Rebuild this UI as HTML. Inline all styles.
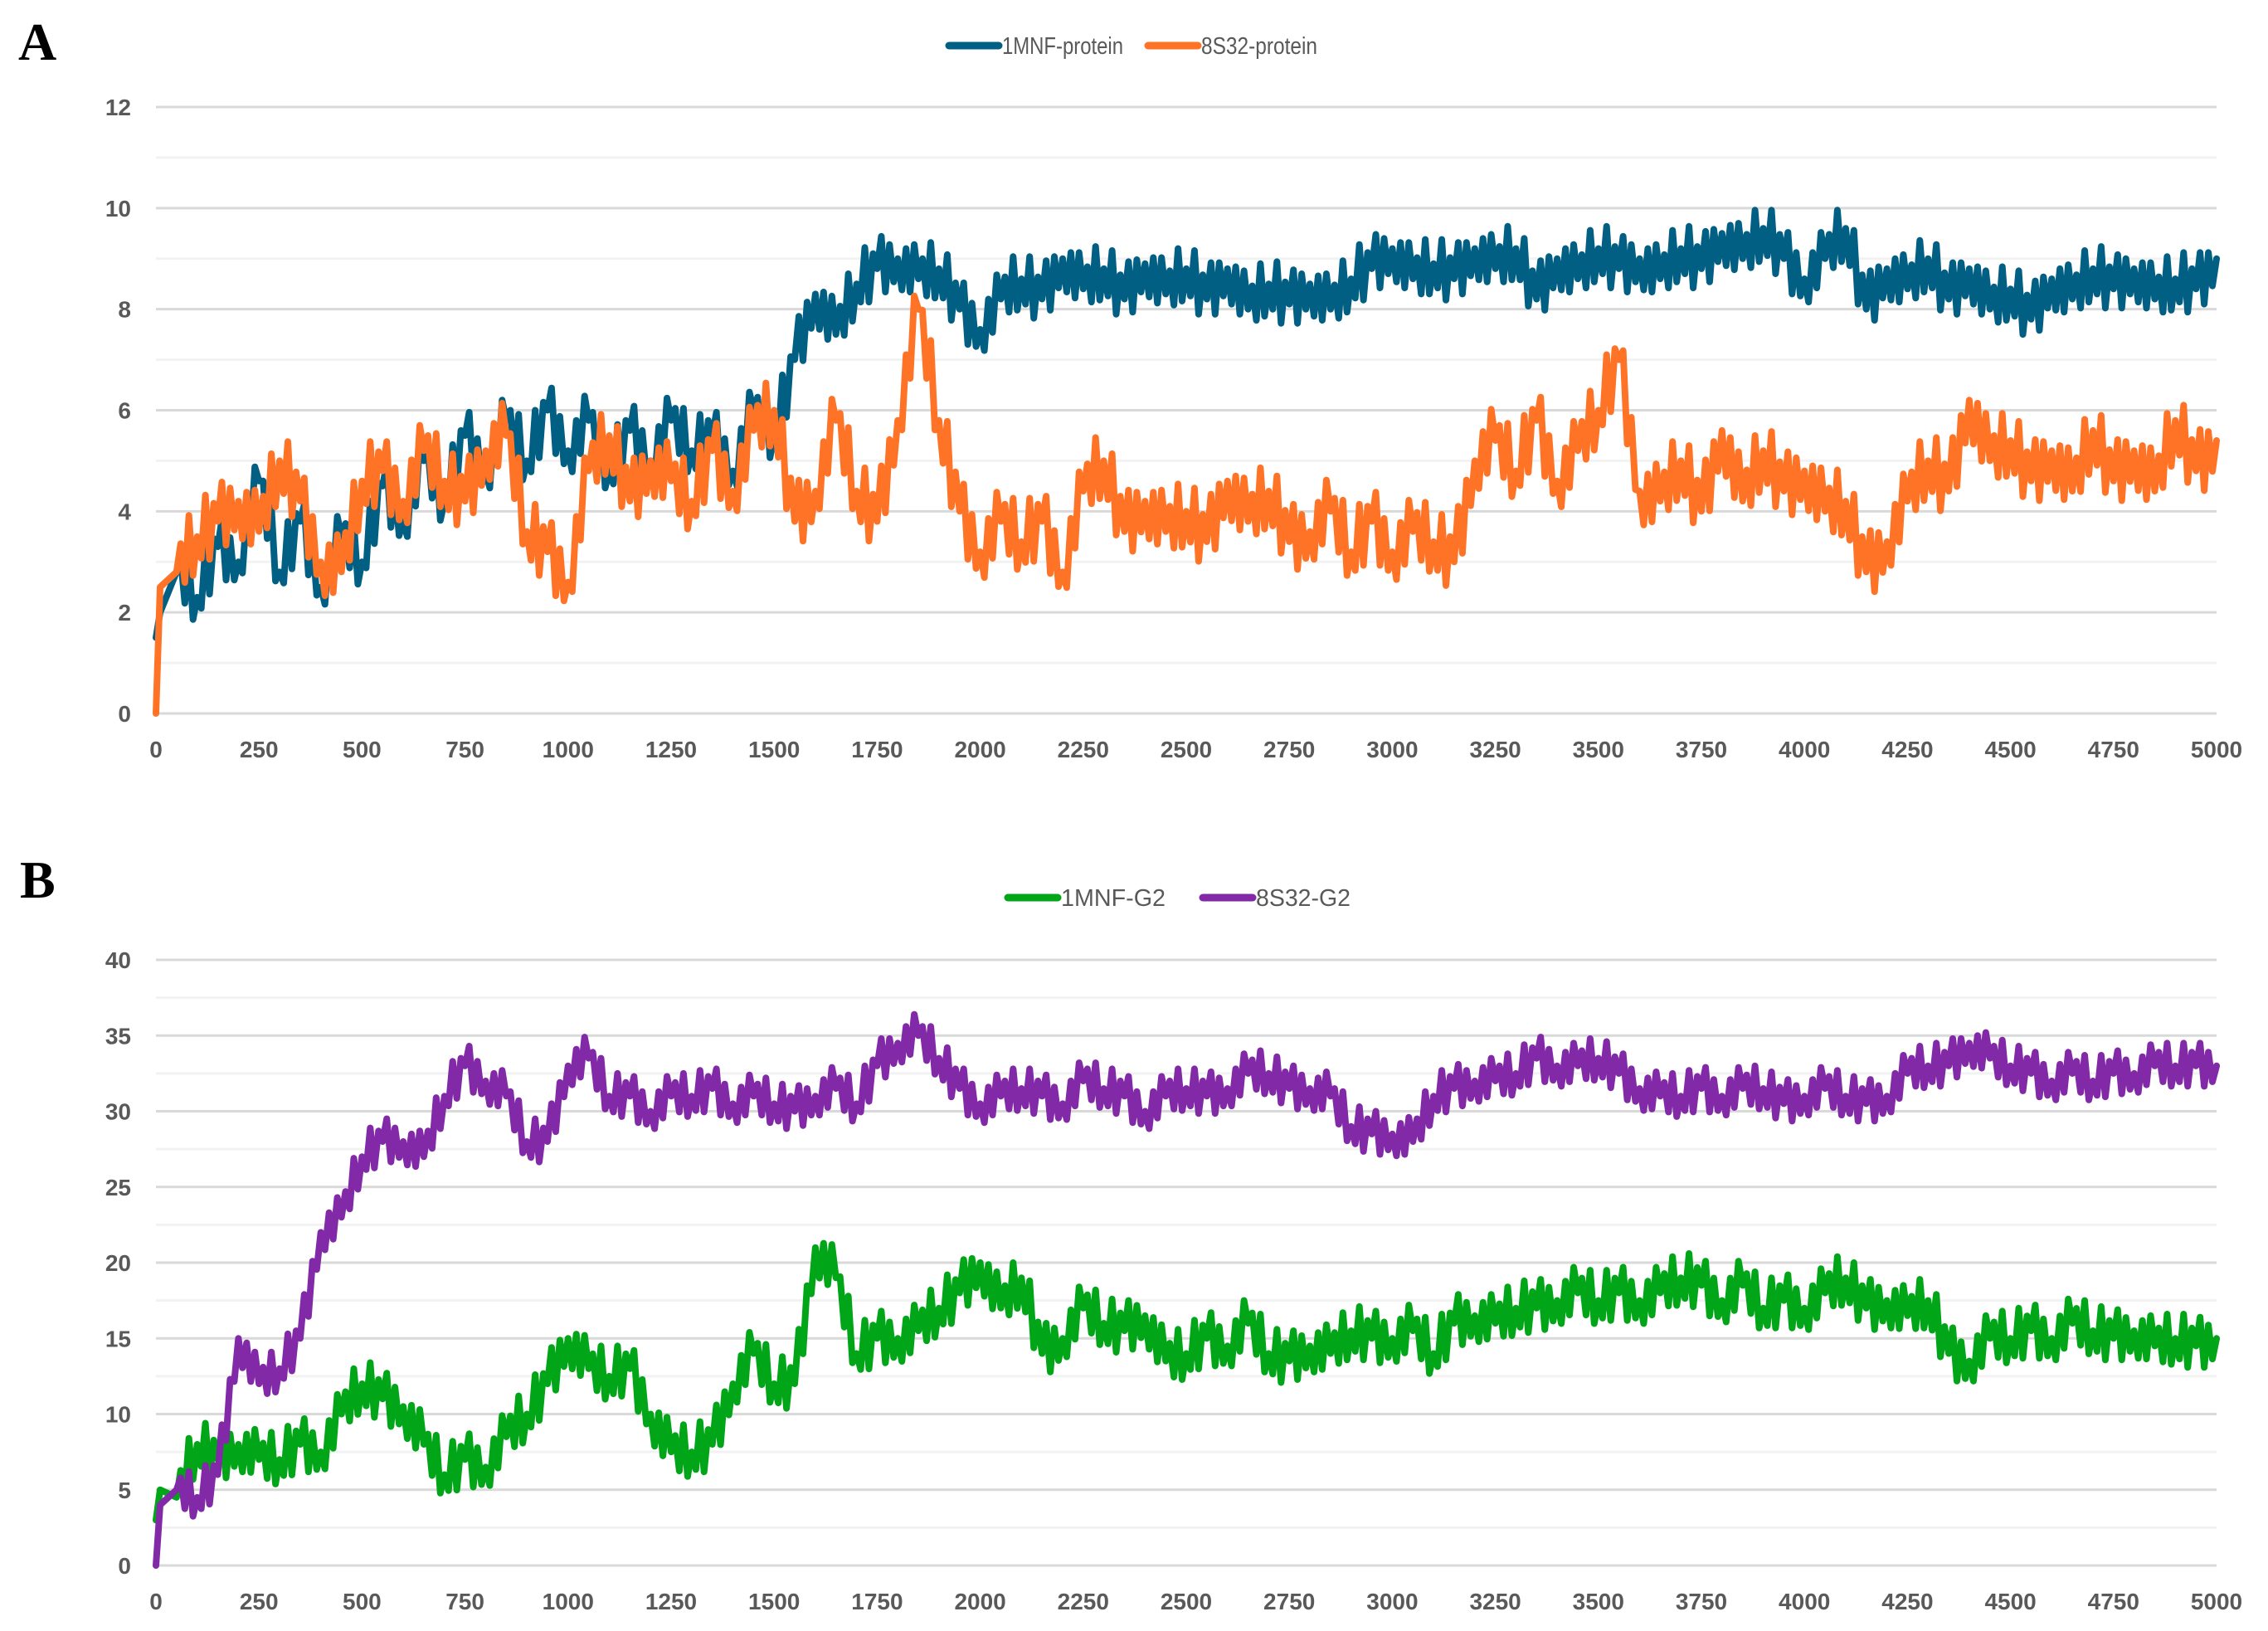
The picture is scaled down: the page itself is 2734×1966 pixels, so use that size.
<!DOCTYPE html>
<html><head><meta charset="utf-8"><style>
body{margin:0;background:#fff;}
svg{display:block;}
</style></head><body>
<svg id="fig" width="2734" height="1966" xmlns="http://www.w3.org/2000/svg">
<text x="22" y="72" font-family="Liberation Serif, serif" font-weight="bold" font-size="64" fill="#000">A</text>
<text x="24" y="1082" font-family="Liberation Serif, serif" font-weight="bold" font-size="64" fill="#000">B</text>
<g id="chartA"></g>
<g id="chartB"></g>
</svg>
<script>
const times = [0,10,50,100,150,200,250,300,350,400,450,500,550,600,650,700,750,800,850,900,950,1000,1050,1100,1150,1200,1250,1300,1350,1400,1450,1500,1550,1600,1650,1700,1750,1800,1850,1900,1950,2000,2050,2100,2150,2200,2250,2300,2350,2400,2450,2500,2550,2600,2650,2700,2750,2800,2850,2900,2950,3000,3050,3100,3150,3200,3250,3300,3350,3400,3450,3500,3550,3600,3650,3700,3750,3800,3850,3900,3950,4000,4050,4100,4150,4200,4250,4300,4350,4400,4450,4500,4550,4600,4650,4700,4750,4800,4850,4900,4950,5000];
const xTicks = [0,250,500,750,1000,1250,1500,1750,2000,2250,2500,2750,3000,3250,3500,3750,4000,4250,4500,4750,5000];
const yTicksA = [0,2,4,6,8,10,12];
const yTicksB = [0,5,10,15,20,25,30,35,40];
const mnfProtein = [1.5,2.0,2.8,2.3,3.3,3.0,4.6,2.8,3.8,2.5,3.5,3.0,4.5,3.8,5.0,4.2,5.5,4.8,5.8,5.0,6.0,5.2,5.8,4.8,5.6,5.0,5.8,5.2,5.5,4.8,6.0,5.5,7.0,8.3,7.5,8.5,8.8,9.0,8.6,8.8,8.0,7.6,8.2,8.6,8.2,9.0,8.4,8.8,8.2,8.9,8.3,8.8,8.2,8.8,8.0,8.5,8.1,8.5,8.0,8.6,8.8,9.2,8.6,8.9,8.6,9.2,8.8,9.2,8.2,9.0,8.6,9.2,8.8,9.0,8.6,9.2,8.8,9.5,9.0,9.6,9.0,8.6,9.0,9.6,8.0,8.8,8.4,9.0,8.2,8.8,8.0,8.4,7.8,8.6,8.2,8.8,8.4,8.8,8.2,8.6,8.4,9.0];
const s32Protein = [0,2.5,2.8,3.5,3.8,4.2,3.6,5.0,4.2,3.0,2.8,4.6,4.8,4.2,5.2,4.6,4.2,5.2,5.5,3.6,3.2,2.6,4.8,5.5,4.2,5.0,4.6,4.2,5.2,4.4,5.6,6.0,3.8,4.4,5.8,4.4,3.8,5.8,8.0,5.8,4.0,3.2,3.8,3.4,3.8,2.8,4.4,5.0,3.6,4.2,3.6,4.0,3.4,4.6,3.8,4.4,3.4,3.6,4.0,3.2,3.8,3.2,3.6,3.4,3.0,5.0,5.4,4.8,5.8,4.6,5.2,6.0,7.0,4.4,4.2,5.0,4.0,5.6,4.2,5.2,4.4,4.8,4.0,4.2,2.8,3.4,4.2,5.0,4.4,6.2,5.0,5.4,4.6,5.2,4.4,5.6,4.6,5.2,4.4,5.8,4.8,5.4];
const mnfG2 = [3,5,4.5,8,7,8,7,7,8,7.5,10,12,11,10.5,8,6,7,6.5,8.5,10,12,15,13,12.5,13,10,7.5,7.5,8,12,14,12,12,21,19,14,15,15,15.5,17,18,20,17,19,14,15,17,16,15.5,16.5,13.5,14,15,14.5,16,14,13.5,14.5,14,15.5,15,15,15.5,14,16,16.5,16,17,17,17.5,18,17.5,18,17.5,18,19,18.5,17.5,18.5,17,17.5,17,18,19,17,17.5,16.5,17.5,14,13.5,15,15,15.5,15,16,15.5,15,15.5,14.5,15,14.5,15];
const s32G2 = [0,4,5,4.5,6,15,12,13,15,22,23,27,28,28,27,31,33,32,31,28,28,33,33.5,31,31,30,31,31,31.5,30.5,31,30.5,30,31,31.5,30.5,33,34.5,35,33.5,31.5,30.5,31,31.5,31,30.5,32,31.5,31,30,31,31.5,31,31.5,32.5,32.5,31.5,31.5,31,29,28.5,28.5,28,31,31.5,32,32,32.5,33.5,33,33,33.5,32.5,31.5,31,31,31.5,31,31.5,31.5,30.5,31,31.5,31,30.5,31,32.5,33,33,34.5,33.5,33,32.5,32,32.5,32,32.5,32.5,33,33,33,33];
// fluctuation half-width of each trace
const mnfProteinSpread = [0.6];
const s32ProteinSpread = [0.7];
const mnfG2Spread = [1.8];
const s32G2Spread = [1.5];

const NS='http://www.w3.org/2000/svg';
function mk(tag, attrs, parent){const e=document.createElementNS(NS,tag);for(const k in attrs)e.setAttribute(k,attrs[k]);parent.appendChild(e);return e;}
const wig=[1,-0.9,0.6,-0.7];

function drawChart(g, cfg){
  const x0=188,x1=2672;
  const xs=v=>x0+(v-0)/5000*(x1-x0);
  const ys=v=>cfg.yBottom-(v/cfg.yMax)*(cfg.yBottom-cfg.yTop);
  const step=cfg.yTicks[1]-cfg.yTicks[0];
  for(let i=0;i<cfg.yTicks.length-1;i++){
    const v=cfg.yTicks[i]+step/2;
    const l=mk('line',{x1:x0,x2:x1,y1:ys(v),y2:ys(v),stroke:'#f2f2f2','stroke-width':3},g);
    
    
  }
  cfg.yTicks.forEach(v=>{
    const l=mk('line',{x1:x0,x2:x1,y1:ys(v),y2:ys(v),stroke:'#d9d9d9','stroke-width':3},g);
    
    
    const t=mk('text',{x:158,y:ys(v)+10,'text-anchor':'end','font-family':'Liberation Sans, sans-serif','font-weight':'bold','font-size':28,fill:'#595959'},g);
    t.textContent=v;
    
    
  });
  xTicks.forEach(v=>{
    const t=mk('text',{x:xs(v),y:cfg.yBottom+53,'text-anchor':'middle','font-family':'Liberation Sans, sans-serif','font-weight':'bold','font-size':28,fill:'#595959'},g);
    t.textContent=v;
    
    
  });
  cfg.series.forEach(s=>{
    const sp=s.spread[0];
    const pts=[];
    for(let i=0;i<times.length;i++){
      pts.push(xs(times[i]).toFixed(1)+','+ys(s.data[i]).toFixed(1));
      if(i<times.length-1 && times[i+1]-times[i]>=50 && i>0){
        for(let k=1;k<=4;k++){
          const f=k/5;
          const t=times[i]+(times[i+1]-times[i])*f;
          const v=s.data[i]+(s.data[i+1]-s.data[i])*f+sp*wig[(k-1+i)%4];
          pts.push(xs(t).toFixed(1)+','+ys(v).toFixed(1));
        }
      }
    }
    const p=mk('polyline',{points:pts.join(' '),fill:'none',stroke:s.color,'stroke-width':8,'stroke-linejoin':'round','stroke-linecap':'round'},g);
    
    
    const ll=mk('line',{x1:s.lx,x2:s.lx+60,y1:cfg.legY,y2:cfg.legY,stroke:s.color,'stroke-width':9,'stroke-linecap':'round'},g);
    
    
    const lt=mk('text',{x:s.lx+64,y:cfg.legY+10,'font-family':'Liberation Sans, sans-serif','font-size':29,fill:'#595959',textLength:s.tl,lengthAdjust:'spacingAndGlyphs'},g);
    lt.textContent=s.label;
    
    
  });
}
drawChart(document.getElementById('chartA'),{yTop:129,yBottom:860,yMax:12,yTicks:yTicksA,legY:55,
  series:[{name:'1mnf-protein',label:'1MNF-protein',color:'#005f83',data:mnfProtein,spread:mnfProteinSpread,lx:1144,tl:146},
          {name:'8s32-protein',label:'8S32-protein',color:'#ff7327',data:s32Protein,spread:s32ProteinSpread,lx:1384,tl:140}]});
drawChart(document.getElementById('chartB'),{yTop:1157,yBottom:1887,yMax:40,yTicks:yTicksB,legY:1082,
  series:[{name:'1mnf-g2',label:'1MNF-G2',color:'#00a618',data:mnfG2,spread:mnfG2Spread,lx:1215,tl:126},
          {name:'8s32-g2',label:'8S32-G2',color:'#8129a7',data:s32G2,spread:s32G2Spread,lx:1450,tl:114}]});
</script>
</body></html>
